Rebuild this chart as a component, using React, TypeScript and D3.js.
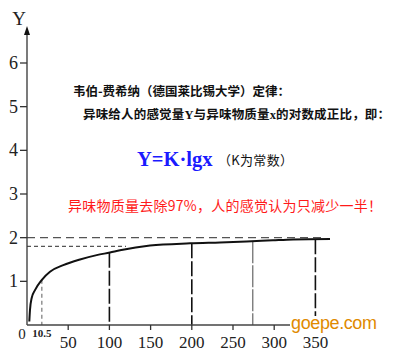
import React from "react";
import * as d3 from "d3";

// ---- data ----
const curveX = [2.8, 3.6, 5.7, 9.7, 17.8, 27.9, 44, 64.3, 84.6, 100.7, 112.9, 149.3, 197.8, 234.2, 266.6, 298.5, 322.8, 367.7];
const curveY = [0.08, 0.34, 0.62, 0.8, 1.03, 1.22, 1.37, 1.5, 1.6, 1.66, 1.71, 1.82, 1.87, 1.89, 1.91, 1.94, 1.96, 1.97];
const yTicks = [1, 2, 3, 4, 5, 6];
const xTicks = [50, 100, 150, 200, 250, 300, 350];
const dropLinesX = [100, 200, 274, 350];
const dropLineKind = ["black", "black", "grey", "black"];
const markerX = 18; // drawn position of the "10.5" marker
const markerLabel = "10.5";
const hLines = [2, 1.8];
const hLinesEnd = [322, 126];

const W = 400;
const H = 356;

export default function App() {
  const x = d3.scaleLinear().domain([0, 350]).range([27, 27 + 0.824 * 350]);
  const y = d3.scaleLinear().domain([0, 6]).range([325, 63]);
  const pts = curveX.map((v, i) => [v, curveY[i]] as [number, number]);
  const line = d3
    .line<[number, number]>()
    .x((d) => x(d[0]))
    .y((d) => y(d[1]))
    .curve(d3.curveMonotoneX);
  const interp = (v: number) => {
    for (let i = 1; i < pts.length; i++) {
      if (v <= pts[i][0]) {
        const t = (v - pts[i - 1][0]) / (pts[i][0] - pts[i - 1][0]);
        return pts[i - 1][1] + t * (pts[i][1] - pts[i - 1][1]);
      }
    }
    return pts[pts.length - 1][1];
  };
  const serif = "'Liberation Serif', 'Times New Roman', serif";
  const cjk = "'Noto Sans CJK SC', sans-serif";
  return (
    <svg
      width={W}
      height={H}
      style={{ position: "absolute", left: 0, top: 0, background: "#fff" }}
    >
      <rect x={0} y={0} width={W} height={H} fill="#fff" />
      {/* horizontal dashed reference lines */}
      {hLines.map((v, i) => (
        <line
          key={"h" + i}
          x1={x(0)}
          x2={hLinesEnd[i]}
          y1={y(v)}
          y2={y(v)}
          stroke="#555"
          strokeWidth={1.2}
          strokeDasharray={i === 0 ? "8,5" : "4,3"}
        />
      ))}
      {/* drop lines */}
      {dropLinesX.map((v, i) => (
        <line
          key={"d" + i}
          x1={x(v)}
          x2={x(v)}
          y1={y(interp(v))}
          y2={y(0)}
          stroke={dropLineKind[i] === "black" ? "#111" : "#666"}
          strokeWidth={dropLineKind[i] === "black" ? 1.6 : 1.2}
          strokeDasharray={dropLineKind[i] === "black" ? "15,3" : "22,2"}
        />
      ))}
      <line
        x1={x(markerX)}
        x2={x(markerX)}
        y1={y(interp(markerX))}
        y2={y(0)}
        stroke="#777"
        strokeWidth={1.2}
        strokeDasharray="4,3"
      />
      {/* axes */}
      <line x1={x(0)} x2={x(0)} y1={y(0)} y2={30} stroke="#333" strokeWidth={1.3} />
      <path d={`M ${x(0)} 26 L ${x(0) - 3} 35 L ${x(0) + 3} 35 Z`} fill="#111" />
      <line x1={x(0)} x2={x(367)} y1={y(0)} y2={y(0)} stroke="#444" strokeWidth={1.3} />
      {yTicks.map((t) => (
        <g key={"yt" + t}>
          <line x1={20} x2={x(0)} y1={y(t)} y2={y(t)} stroke="#333" strokeWidth={1.3} />
          <text
            x={18}
            y={y(t) + 6}
            textAnchor="end"
            fontFamily={serif}
            fontSize={18}
            fill="#222"
          >
            {t}
          </text>
        </g>
      ))}
      {xTicks.map((t) => (
        <g key={"xt" + t}>
          <line x1={x(t)} x2={x(t)} y1={y(0)} y2={y(0) + 5} stroke="#333" strokeWidth={1.3} />
          <text
            x={x(t)}
            y={348}
            textAnchor="middle"
            fontFamily={serif}
            fontSize={17}
            fill="#222"
          >
            {t}
          </text>
        </g>
      ))}
      <text x={22} y={339} textAnchor="middle" fontFamily={serif} fontSize={15} fill="#222">
        0
      </text>
      <text
        x={x(markerX)}
        y={337}
        textAnchor="middle"
        fontFamily={serif}
        fontSize={11}
        fontWeight="bold"
        fill="#222"
      >
        {markerLabel}
      </text>
      <text x={19} y={25} textAnchor="middle" fontFamily={serif} fontSize={19} fill="#222">
        Y
      </text>
      {/* curve */}
      <path d={line(pts) || ""} fill="none" stroke="#111" strokeWidth={2} />
      {/* annotations */}
      <text
        x={73}
        y={96}
        fontFamily={cjk}
        fontSize={12.5}
        fontWeight={700}
        fill="#111"
        textLength={217}
      >
        韦伯-费希纳（德国莱比锡大学）定律：
      </text>
      <text
        x={83}
        y={119}
        fontFamily={cjk}
        fontSize={12.5}
        fontWeight={700}
        fill="#111"
        textLength={307}
      >
        异味给人的感觉量
        <tspan fontFamily={serif}>Y</tspan>
        与异味物质量
        <tspan fontFamily={serif}>x</tspan>
        的对数成正比，即：
      </text>
      <text
        x={137}
        y={166}
        fontFamily={serif}
        fontSize={20.5}
        fontWeight="bold"
        fill="#1a1aff"
      >
        Y=K·lgx
      </text>
      <text x={218} y={165} fontFamily={cjk} fontSize={13} fill="#111" textLength={75}>
        （K为常数）
      </text>
      <text
        x={68}
        y={211}
        fontFamily={cjk}
        fontSize={14}
        fill="#ff1a1a"
        textLength={314}
      >
        异味物质量去除97%，人的感觉认为只减少一半！
      </text>
      {/* watermark */}
      <rect x={290} y={316} width={90} height={16} fill="#fff" />
      <text
        x={291}
        y={329}
        fontFamily="'Liberation Sans', Arial, sans-serif"
        fontSize={18}
        fill="#e08a00"
        textLength={86}
      >
        goepe.com
      </text>
    </svg>
  );
}
